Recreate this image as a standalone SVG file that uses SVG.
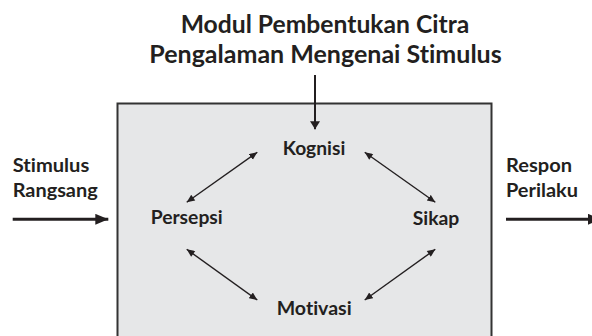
<svg xmlns="http://www.w3.org/2000/svg" width="592" height="336" viewBox="0 0 592 336">
  <style>
    text { font-family: Lato, "Open Sans", "Liberation Sans", sans-serif; font-weight: bold; fill: #231f20; font-variant-ligatures: none; }
    .title { font-size: 24px; }
    .lbl { font-size: 19px; }
    .thin { stroke: #231f20; stroke-width: 1.4; fill: none; marker-start: url(#hs); marker-end: url(#he); }
    .thick { stroke: #231f20; stroke-width: 3; fill: none; }
  </style>
  <defs>
    <marker id="he" markerUnits="userSpaceOnUse" markerWidth="10" markerHeight="8" refX="8" refY="3.5" orient="auto">
      <path d="M0,0 L8,3.5 L0,7 Z" fill="#231f20"/>
    </marker>
    <marker id="hs" markerUnits="userSpaceOnUse" markerWidth="10" markerHeight="8" refX="0" refY="3.5" orient="auto">
      <path d="M8,0 L0,3.5 L8,7 Z" fill="#231f20"/>
    </marker>
    <marker id="big" markerUnits="userSpaceOnUse" markerWidth="14" markerHeight="12" refX="13" refY="5.5" orient="auto">
      <path d="M0,0 L13,5.5 L0,11 Z" fill="#231f20"/>
    </marker>
    <marker id="mid" markerUnits="userSpaceOnUse" markerWidth="12" markerHeight="10" refX="8" refY="5" orient="auto">
      <path d="M0,0 L8,5 L0,10 Z" fill="#231f20"/>
    </marker>
  </defs>

  <g id="module-box">
    <rect x="117.5" y="103.5" width="374" height="260" fill="#e6e7e8" stroke="#333333" stroke-width="2"/>
  </g>

  <g id="title">
    <text class="title" x="180.7" y="33.3" textLength="288.6" lengthAdjust="spacingAndGlyphs">Modul Pembentukan Citra</text>
    <text class="title" x="149.3" y="63.3" textLength="352.4" lengthAdjust="spacingAndGlyphs">Pengalaman Mengenai Stimulus</text>
  </g>

  <g id="stimulus">
    <text class="lbl" x="12.7" y="171.7" textLength="76.6" lengthAdjust="spacingAndGlyphs">Stimulus</text>
    <text class="lbl" x="12.7" y="196.7" textLength="85" lengthAdjust="spacingAndGlyphs">Rangsang</text>
  </g>

  <g id="respon">
    <text class="lbl" x="506" y="171.7" textLength="66" lengthAdjust="spacingAndGlyphs">Respon</text>
    <text class="lbl" x="506" y="196.7" textLength="72" lengthAdjust="spacingAndGlyphs">Perilaku</text>
  </g>

  <g id="kognisi">
    <text class="lbl" x="282.7" y="155" textLength="62.6" lengthAdjust="spacingAndGlyphs">Kognisi</text>
  </g>
  <g id="persepsi">
    <text class="lbl" x="150.7" y="224" textLength="72" lengthAdjust="spacingAndGlyphs">Persepsi</text>
  </g>
  <g id="sikap">
    <text class="lbl" x="412.7" y="225" textLength="46.6" lengthAdjust="spacingAndGlyphs">Sikap</text>
  </g>
  <g id="motivasi">
    <text class="lbl" x="276.7" y="315" textLength="75" lengthAdjust="spacingAndGlyphs">Motivasi</text>
  </g>

  <g id="connectors">
    <line class="thick" x1="12.7" y1="219.3" x2="108.3" y2="219.3" marker-end="url(#big)"/>
    <line class="thick" x1="506" y1="219.3" x2="601" y2="219.3" marker-end="url(#big)"/>
    <line stroke="#231f20" stroke-width="2" x1="315" y1="75" x2="315" y2="129.3" marker-end="url(#mid)"/>
    <line class="thin" x1="186.7" y1="202.3" x2="257.3" y2="152.3"/>
    <line class="thin" x1="186.7" y1="249.3" x2="257.3" y2="300"/>
    <line class="thin" x1="364.7" y1="152.3" x2="435.3" y2="202.3"/>
    <line class="thin" x1="435.3" y1="249.3" x2="364.7" y2="300"/>
  </g>
</svg>
